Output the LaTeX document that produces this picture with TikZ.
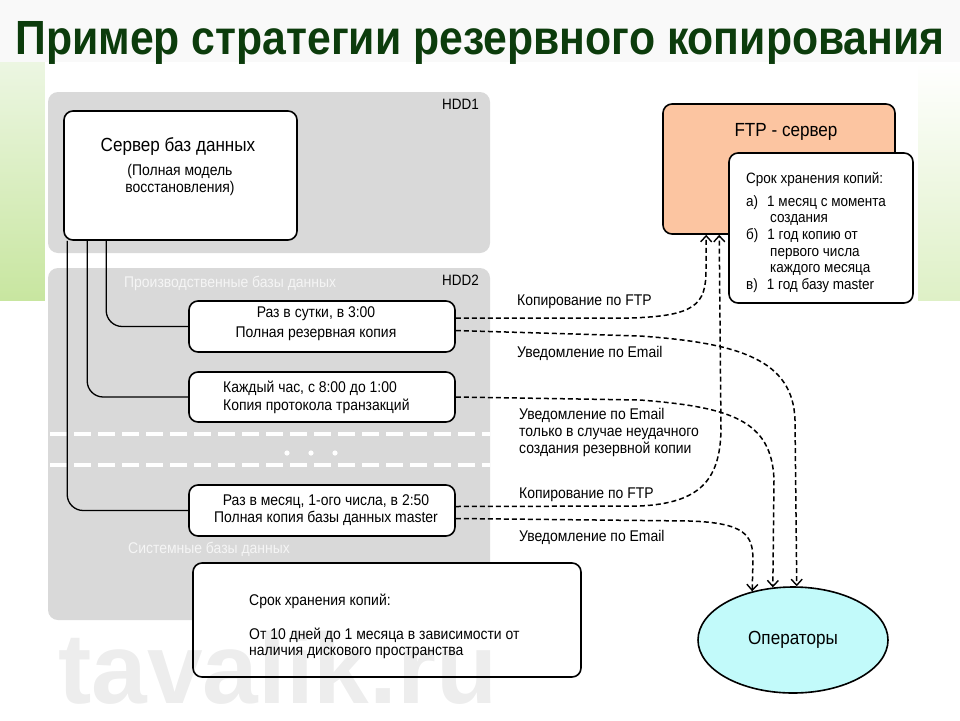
\documentclass[tikz,border=0pt]{standalone}
\usepackage{fontspec}
\setmainfont{Liberation Sans}[FakeStretch=0.9]
\newfontfamily\titlefont{Liberation Sans}[FakeStretch=0.89]
\newfontfamily\wmfont{Liberation Sans}
\usetikzlibrary{arrows.meta,shapes.geometric,calc}
\definecolor{panelgray}{RGB}{217,217,217}
\definecolor{peach}{RGB}{252,197,161}
\definecolor{opcyan}{RGB}{194,250,250}
\definecolor{titlegreen}{RGB}{12,60,12}
\definecolor{leafgreen}{RGB}{200,230,160}
\definecolor{paleleaf}{RGB}{236,246,226}
\definecolor{paneltext}{RGB}{245,245,245}
\begin{document}
\begin{tikzpicture}[x=1pt,y=-1pt,
  box/.style={draw, line width=1.6pt, rounded corners=9pt, fill=white, inner sep=0pt},
  conn/.style={line width=1.3pt, rounded corners=16pt},
  dconn/.style={line width=1.5pt, dash pattern=on 5pt off 3pt, -{Straight Barb[length=6pt,width=11pt,line width=1.4pt]}},
  lbl/.style={anchor=west, inner sep=0pt, align=left, font=\fontsize{15.5}{17}\selectfont},
  paneltxt/.style={anchor=west, inner sep=0pt, text=paneltext, font=\fontsize{15.5}{17}\selectfont},
  hddtxt/.style={anchor=east, inner sep=0pt, font=\fontsize{15}{17}\selectfont}
]
\useasboundingbox (0,0) rectangle (960,720);
% background
\fill[gray!5] (0,0) rectangle (960,62);
\shade[top color=paleleaf, bottom color=leafgreen] (0,62) rectangle (45,300);
\shade[top color=white, bottom color=leafgreen!60] (918,62) rectangle (960,300);
\fill[white] (45,62) rectangle (918,720);
% title
\node[inner sep=0pt, text=titlegreen, font=\titlefont\bfseries\fontsize{48}{52}\selectfont] (title) at (480,43) {Пример стратегии резервного копирования};
% panels
\fill[panelgray, rounded corners=10pt] (48,92) rectangle (490,253);
\fill[panelgray, rounded corners=10pt] (48,268) rectangle (490,620);
\draw[white, line width=4pt, dash pattern=on 17pt off 7pt] (50,434) -- (490,434);
\draw[white, line width=4pt, dash pattern=on 17pt off 7pt] (50,465) -- (490,465);
\fill[white] (287,453) circle (2.6);
\fill[white] (311,453) circle (2.6);
\fill[white] (335,453) circle (2.6);
\node[hddtxt] (hdd1) at (479,104) {HDD1};
\node[hddtxt] (hdd2) at (479,280) {HDD2};
\node[paneltxt] (prod) at (124,283) {Производственные базы данных};
\node[paneltxt] (sys) at (128,549) {Системные базы данных};
% server
\node[box, minimum width=233pt, minimum height=129pt] (server) at (180.5,175.5) {};
\node[inner sep=0pt, font=\fontsize{19}{21}\selectfont] (servt) at (178,147) {Сервер баз данных};
\node[inner sep=0pt, align=center, font=\fontsize{15.5}{16.5}\selectfont] (servs) at (180,180) {(Полная модель\\восстановления)};
\coordinate (s1) at ($(server.south west)+(4,0)$);
\coordinate (s2) at ($(server.south west)+(24,0)$);
\coordinate (s3) at ($(server.south west)+(43,0)$);
% backup boxes
\node[box, minimum width=266pt, minimum height=51pt] (b1) at (322,326.5) {};
\node[box, minimum width=266pt, minimum height=50pt] (b2) at (322,397) {};
\node[box, minimum width=266pt, minimum height=51pt] (b3) at (322,510.5) {};
\draw[conn] (s3) |- (b1.west);
\draw[conn] (s2) |- (b2.west);
\draw[conn] (s1) |- (b3.west);
\node[inner sep=0pt, align=center, font=\fontsize{15.5}{20}\selectfont] (b1t) at (316,324) {Раз в сутки, в 3:00\\Полная резервная копия};
\node[inner sep=0pt, align=left, anchor=west, font=\fontsize{15.5}{18}\selectfont] (b2t) at (223,397) {Каждый час, с 8:00 до 1:00\\Копия протокола транзакций};
\node[inner sep=0pt, align=center, font=\fontsize{15.5}{17}\selectfont] (b3t) at (326,510.5) {Раз в месяц, 1-ого числа, в 2:50\\Полная копия базы данных master};
% retention box
\node[box, minimum width=388pt, minimum height=114pt] (ret) at (387,620) {};
\node[lbl, anchor=north west, font=\fontsize{15.5}{16.5}\selectfont] (rett) at (249,594) {Срок хранения копий:\\[17pt]От 10 дней до 1 месяца в зависимости от\\наличия дискового пространства};
% FTP server
\node[box, fill=peach, minimum width=232pt, minimum height=130pt] (ftp) at (779,169) {};
\node[inner sep=0pt, font=\fontsize{19}{21}\selectfont] (ftpt) at (786,132) {FTP - сервер};
\node[box, minimum width=184pt, minimum height=150pt] (ftpr) at (821,228) {};
\node[lbl, anchor=north west, font=\fontsize{15}{16.7}\selectfont] (ftprt) at (746,172) {Срок хранения копий:\\[6pt]а)\hspace{9pt}1 месяц с момента\\\hspace{24pt}создания\\б)\hspace{9pt}1 год копию от\\\hspace{24pt}первого числа\\\hspace{24pt}каждого месяца\\в)\hspace{9pt}1 год базу master};
\coordinate (f1) at ($(ftp.south west)+(44,0)$);
\coordinate (f2) at ($(ftp.south west)+(57,0)$);
% operators
\node[ellipse, draw, line width=1.6pt, fill=opcyan, minimum width=190pt, minimum height=106pt, inner sep=0pt, font=\fontsize{19}{21}\selectfont] (ops) at (793,640) {Операторы};
% dashed connectors
\draw[dconn] ($(b1.east)+(0,-8.5)$) -- (630,318) .. controls (695,316) and (706,305) .. (706,270) -- (f1);
\draw[dconn] ($(b1.east)+(0,4)$) -- (640,336) .. controls (740,343) and (793,360) .. (795,420) -- (ops.86);
\draw[dconn] (b2.east) -- (640,400) .. controls (730,407) and (772,420) .. (774,480) -- (ops.111);
\draw[dconn] ($(b3.east)+(0,-4)$) -- (640,506) .. controls (700,503) and (720,480) .. (721,430) -- (f2);
\draw[dconn] ($(b3.east)+(0,8)$) -- (690,521) .. controls (745,523) and (753,535) .. (753,560) -- (ops.130);
% labels
\node[lbl] (l1) at (517,302) {Копирование по FTP};
\node[lbl] (l2) at (517,353) {Уведомление по Email};
\node[lbl] (l3) at (519,432) {Уведомление по Email\\только в случае неудачного\\создания резервной копии};
\node[lbl] (l4) at (519,495) {Копирование по FTP};
\node[lbl] (l5) at (519,537) {Уведомление по Email};
% watermark
\node[anchor=base west, inner sep=0pt, text=black, text opacity=0.07, font=\wmfont\bfseries\fontsize{100}{100}\selectfont] (wm) at (58,703) {tavalik.ru};
\end{tikzpicture}
\end{document}
